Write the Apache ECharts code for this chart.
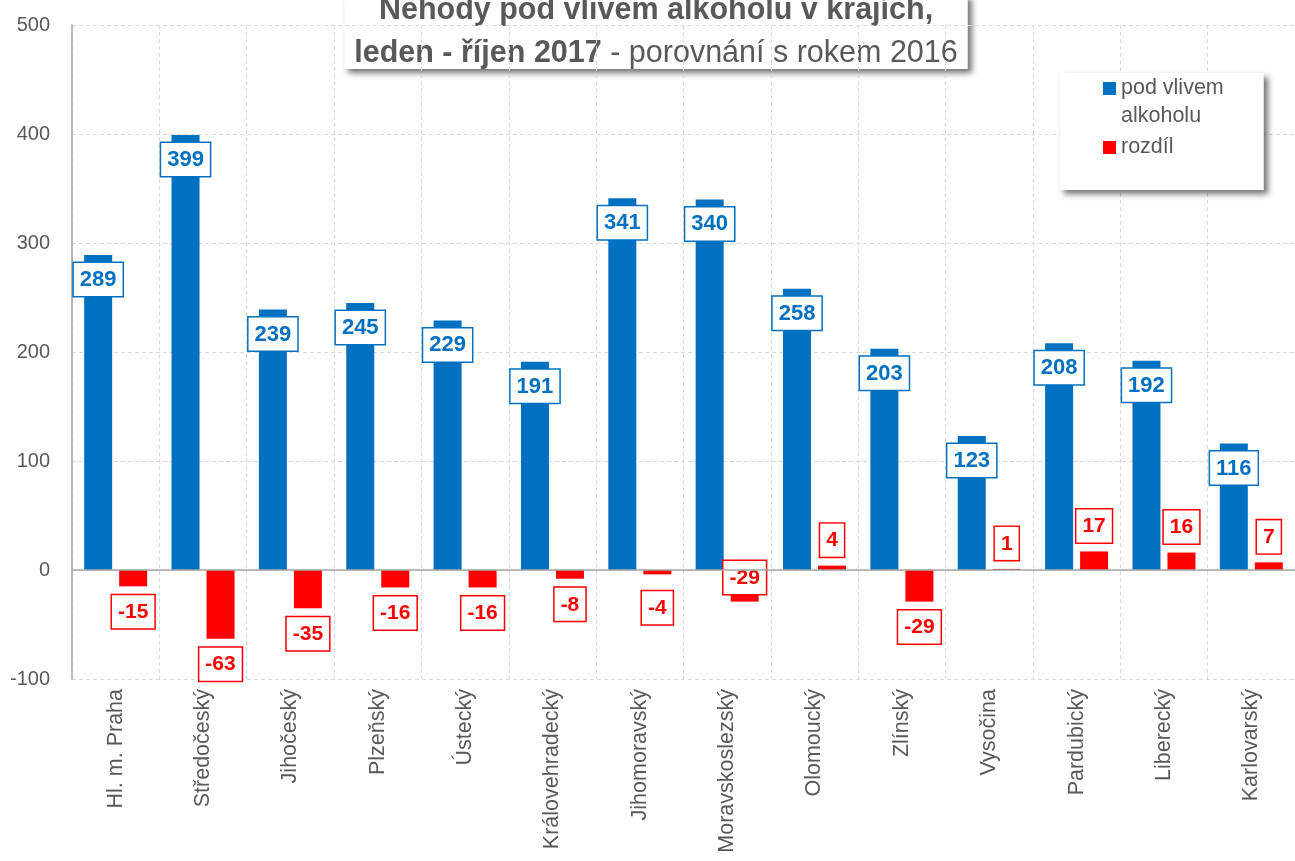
<!DOCTYPE html>
<html>
<head>
<meta charset="utf-8">
<style>
  html, body { margin: 0; padding: 0; background: #fff; }
  #main { width: 1295px; height: 861px; }
</style>
<script src="https://cdn.jsdelivr.net/npm/echarts@6/dist/echarts.min.js"></script>
</head>
<body>
<div id="main"></div>
<script>
// kraje
var categories = ['Hl. m. Praha', 'Středočeský', 'Jihočeský', 'Plzeňský', 'Ústecký', 'Královehradecký',
  'Jihomoravský', 'Moravskoslezský', 'Olomoucký', 'Zlínský', 'Vysočina', 'Pardubický', 'Liberecký', 'Karlovarský']
// nehody pod vlivem alkoholu, leden - říjen 2017
var alcohol = [289, 399, 239, 245, 229, 191, 341, 340, 258, 203, 123, 208, 192, 116]
// rozdíl proti roku 2016
var diff = [-15, -63, -35, -16, -16, -8, -4, -29, 4, -29, 1, 17, 16, 7]
var yTicks = [-100, 0, 100, 200, 300, 400, 500]

var SANS = '"Liberation Sans", Arial, sans-serif'
var BLUE = '#0070C0'
var RED = '#FF0000'
var GREY = '#595959'
var GRID = '#d9d9d9'

var chart = echarts.init(document.getElementById('main'))

// popisky rozdílu: záporné pod sloupcem, kladné nad ním
var diffData = diff.map(function (v, i) {
  var item = { value: v, label: { position: v < 0 ? 'bottom' : 'top' } }
  if (categories[i] === 'Moravskoslezský') {
    item.label = { position: 'insideTop', distance: 0, offset: [0, -9] }
  }
  if (v === -4) item.label.offset = [0, 8]
  return item
})

chart.setOption({
  animation: false,
  title: {
    text: '{b|Nehody pod vlivem alkoholu v krajích,}\n{b|leden - říjen 2017}{r| - porovnání s rokem 2016}',
    left: 646,
    top: -11,
    textAlign: 'center',
    padding: [0, 10, 0, 10],
    backgroundColor: '#fff',
    shadowColor: 'rgba(0,0,0,0.55)',
    shadowBlur: 6,
    shadowOffsetX: 4,
    shadowOffsetY: 4,
    z: -1,
    textStyle: {
      fontWeight: 'normal',
      rich: {
        b: { fontFamily: SANS, fontSize: 30.5, fontWeight: 'bold', color: GREY, lineHeight: 43 },
        r: { fontFamily: SANS, fontSize: 30.5, fontWeight: 'normal', color: GREY, lineHeight: 43 }
      }
    }
  },
  legend: {
    orient: 'vertical',
    left: 1060,
    top: 73,
    padding: [1.5, 40, 22, 43],
    itemGap: -3.5,
    itemWidth: 13,
    itemHeight: 41,
    backgroundColor: '#fff',
    shadowColor: 'rgba(0,0,0,0.55)',
    shadowBlur: 6,
    shadowOffsetX: 4,
    shadowOffsetY: 4,
    data: [
      { name: 'pod vlivem alkoholu', icon: 'path://M0,0h13v13h-13zM0,41h0.01' },
      { name: 'rozdíl', icon: 'path://M0,14h13v13h-13zM0,0h0.01M0,41h0.01' }
    ],
    formatter: function (name) {
      return name === 'pod vlivem alkoholu' ? 'pod vlivem\nalkoholu' : name
    },
    textStyle: { fontFamily: SANS, fontSize: 21.5, color: GREY, lineHeight: 28 }
  },
  grid: { left: 72, right: 0, top: 25, bottom: 182 },
  xAxis: {
    type: 'category',
    data: categories,
    axisLine: { show: false, onZero: false },
    axisTick: { show: false },
    splitLine: { show: true, lineStyle: { color: GRID, type: [4, 3] } },
    axisLabel: { rotate: 90, margin: 10, fontFamily: SANS, fontSize: 21.5, color: GREY }
  },
  yAxis: {
    type: 'value',
    min: yTicks[0],
    max: yTicks[yTicks.length - 1],
    interval: 100,
    axisLine: { show: true, lineStyle: { color: '#a6a6a6', width: 1.5 } },
    axisTick: { show: false },
    splitLine: { lineStyle: { color: GRID, type: [4, 3] } },
    axisLabel: { margin: 22, fontFamily: SANS, fontSize: 20, color: GREY }
  },
  series: [{
    name: 'pod vlivem alkoholu',
    type: 'bar',
    data: alcohol,
    barWidth: 28,
    barGap: '25%',
    itemStyle: { color: BLUE },
    label: {
      show: true,
      position: 'insideTop',
      distance: 8,
      fontFamily: SANS,
      fontSize: 22,
      fontWeight: 'bold',
      lineHeight: 24,
      color: BLUE,
      backgroundColor: '#fff',
      borderColor: BLUE,
      borderWidth: 1.5,
      padding: [5, 6, 4, 6]
    }
  }, {
    name: 'rozdíl',
    type: 'bar',
    data: diffData,
    barWidth: 28,
    itemStyle: { color: RED },
    label: {
      show: true,
      distance: 9,
      fontFamily: SANS,
      fontSize: 21,
      fontWeight: 'bold',
      lineHeight: 24,
      color: RED,
      backgroundColor: '#fff',
      borderColor: RED,
      borderWidth: 1.5,
      padding: [5, 6, 4, 6]
    },
    markLine: {
      silent: true,
      symbol: ['none', 'none'],
      label: { show: false },
      lineStyle: { color: '#a6a6a6', width: 1.5, type: 'solid' },
      data: [{ yAxis: 0 }]
    }
  }]
})
</script>
</body>
</html>
